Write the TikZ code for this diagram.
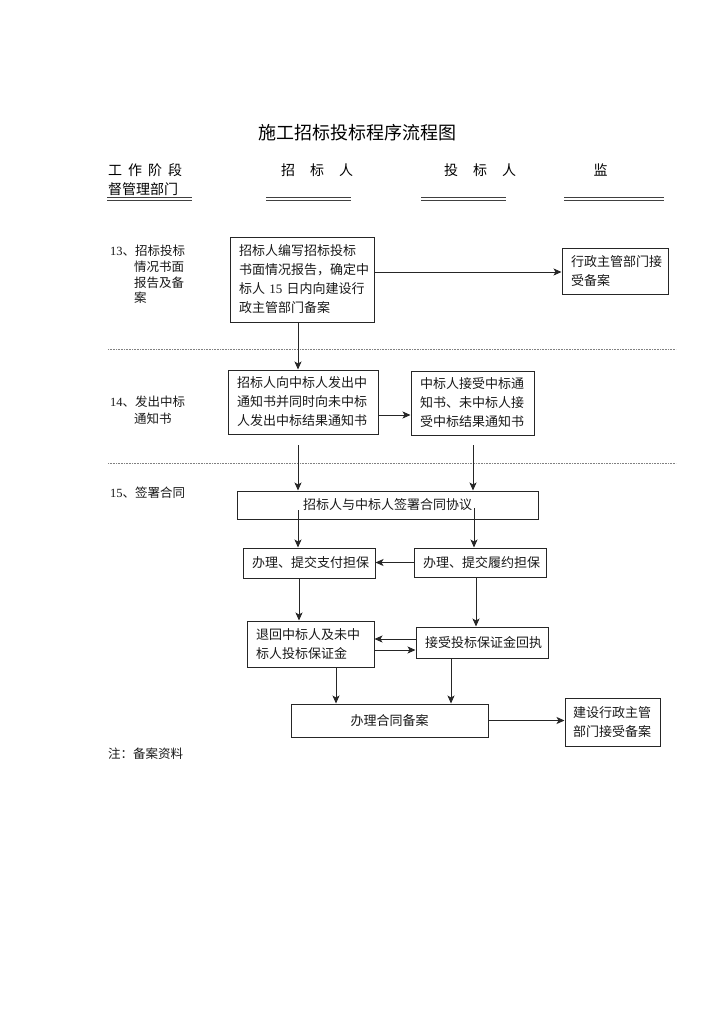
\documentclass[tikz,border=0pt]{standalone}
\usepackage{fontspec}
\setmainfont{Noto Sans CJK SC}
\newfontfamily\lat{Liberation Serif}
\usetikzlibrary{arrows.meta}
\begin{document}
\begin{tikzpicture}[x=1pt,y=-1pt,
  bx/.style={draw=black!85, line width=1pt, inner xsep=9pt, inner ysep=0pt, align=left, font=\fontsize{13pt}{19pt}\selectfont, text=black!90},
  arr/.style={-{Stealth[length=8pt,width=7pt,inset=2pt]}, line width=0.9pt, draw=black!85},
  lbl/.style={anchor=west, inner sep=0pt, font=\fontsize{12.5pt}{16pt}\selectfont, text=black!90},
  hd/.style={inner sep=0pt, font=\fontsize{14pt}{16pt}\selectfont},
  sepline/.style={densely dotted, draw=black!50, line width=0.6pt},
  dbl/.style={double=white, double distance=1.1pt, line width=1.2pt, draw=black!75}
]
\fill[white] (0,0) rectangle (720,1012);
\useasboundingbox (0,0) rectangle (720,1012);

% title and headers
\node[font=\fontsize{18pt}{20pt}\selectfont, inner sep=0pt] (title) at (357.5,133) {施工招标投标程序流程图};
\node[hd, anchor=west] (h1) at (108,170) {工\hspace{6pt}作\hspace{6pt}阶\hspace{6pt}段};
\node[hd, anchor=west] (h2) at (108,189) {督管理部门};
\node[hd, anchor=west] (h3) at (281,170) {招\hspace{15pt}标\hspace{15pt}人};
\node[hd, anchor=west] (h4) at (444,170) {投\hspace{15pt}标\hspace{15pt}人};
\node[hd] (h5) at (600.5,170) {监};
\draw[dbl] (107,199) -- (192,199);
\draw[dbl] (266,199) -- (351,199);
\draw[dbl] (421,199) -- (506,199);
\draw[dbl] (564,199) -- (664,199);

% stage labels
\node[lbl] (l13a) at (110,251) {{\lat 13}、招标投标};
\node[lbl] (l13b) at (134,267) {情况书面};
\node[lbl] (l13c) at (134,283) {报告及备};
\node[lbl] (l13d) at (134,298) {案};
\node[lbl] (l14a) at (110,402) {{\lat 14}、发出中标};
\node[lbl] (l14b) at (134,419) {通知书};
\node[lbl] (l15a) at (110,493) {{\lat 15}、签署合同};
\node[lbl] (note) at (108,754) {注：备案资料};

% separators
\draw[sepline] (108,349) -- (676,349);
\draw[sepline] (108,463) -- (676,463);

% boxes
\node[bx, minimum width=144pt, minimum height=85pt, text width=126pt] (A) at (302,279.5)
  {招标人编写招标投标\\书面情况报告，确定中\\标人 {\lat 15} 日内向建设行\\政主管部门备案};
\node[bx, minimum width=106pt, minimum height=46pt, text width=88pt] (B) at (615,271)
  {行政主管部门接\\受备案};
\node[bx, minimum width=150pt, minimum height=64pt, text width=132pt] (C) at (303,402)
  {招标人向中标人发出中\\通知书并同时向未中标\\人发出中标结果通知书};
\node[bx, minimum width=123pt, minimum height=64pt, text width=105pt] (D) at (472.5,403)
  {中标人接受中标通\\知书、未中标人接\\受中标结果通知书};
\node[bx, align=center, minimum width=301pt, minimum height=28pt, text width=283pt] (E) at (387.5,505)
  {招标人与中标人签署合同协议};
\node[bx, minimum width=132pt, minimum height=30pt, text width=114pt] (F) at (309,563)
  {办理、提交支付担保};
\node[bx, minimum width=132pt, minimum height=29pt, text width=114pt] (G) at (480,562.5)
  {办理、提交履约担保};
\node[bx, minimum width=127pt, minimum height=46pt, text width=109pt] (H) at (310.5,644)
  {退回中标人及未中\\标人投标保证金};
\node[bx, minimum width=132pt, minimum height=31pt, text width=114pt] (I) at (482,642.5)
  {接受投标保证金回执};
\node[bx, align=center, minimum width=197pt, minimum height=33pt, text width=179pt] (J) at (389.5,720.5)
  {办理合同备案};
\node[bx, inner xsep=8pt, minimum width=95pt, minimum height=48pt, text width=79pt] (K) at (612.5,722)
  {建设行政主管\\部门接受备案};

% free connector ends
\coordinate (c1) at (298,445);
\coordinate (d1) at (473,445);
\coordinate (e1) at (298,510);
\coordinate (e2) at (474,508);

% connectors
\draw[arr] ([yshift=7.5pt]A.east) -- ([yshift=7.5pt]A.east -| B.west);
\draw[arr] ([xshift=-4pt]A.south) -- ([xshift=-4pt]A.south |- C.north);
\draw[arr] ([yshift=-13pt]C.east) -- ([yshift=-13pt]C.east -| D.west);
\draw[arr] (c1) -- (c1 |- E.north);
\draw[arr] (d1) -- (d1 |- E.north);
\draw[arr] (e1) -- (e1 |- F.north);
\draw[arr] (e2) -- (e2 |- G.north);
\draw[arr] (G.west) -- (G.west -| F.east);
\draw[arr] ([xshift=-10pt]F.south) -- ([xshift=-10pt]F.south |- H.north);
\draw[arr] ([xshift=-4pt]G.south) -- ([xshift=-4pt]G.south |- I.north);
\draw[arr] ([yshift=3.5pt]I.west) -- ([yshift=3.5pt]I.west -| H.east);
\draw[arr] ([yshift=-6pt]H.east) -- ([yshift=-6pt]H.east -| I.west);
\draw[arr] ([xshift=25.5pt]H.south) -- ([xshift=25.5pt]H.south |- J.north);
\draw[arr] ([xshift=-31pt]I.south) -- ([xshift=-31pt]I.south |- J.north);
\draw[arr] (J.east) -- (J.east -| K.west);
\end{tikzpicture}
\end{document}
